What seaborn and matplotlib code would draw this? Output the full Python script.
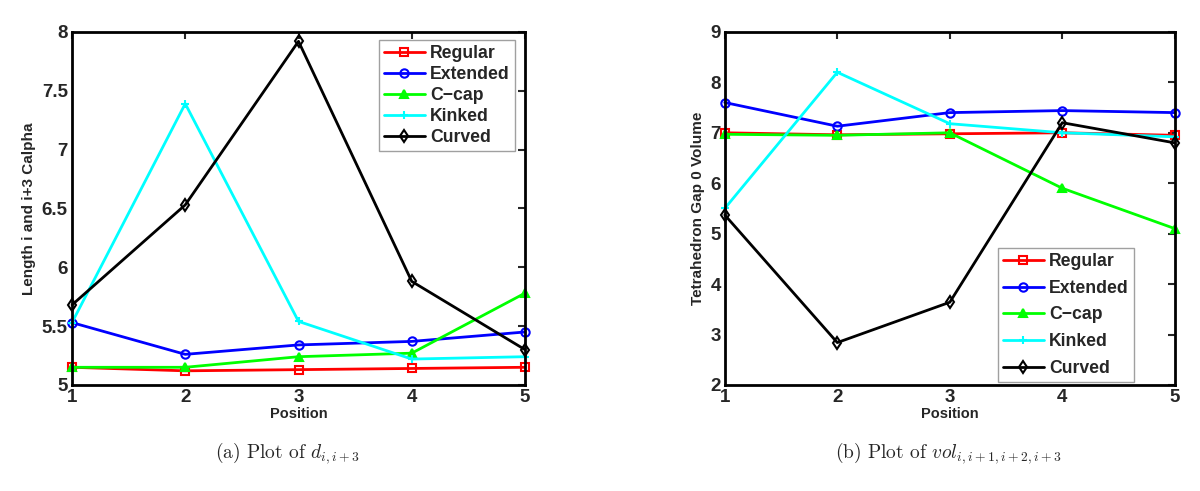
import pandas as pd
import numpy as np
import matplotlib
matplotlib.use("Agg")
import matplotlib.pyplot as plt
import seaborn as sns

positions = [1, 2, 3, 4, 5]
series_names = ["Regular", "Extended", "C\u2212cap", "Kinked", "Curved"]

# (a) distance between residue i and i+3 C-alpha
dist_regular = [5.15, 5.12, 5.13, 5.14, 5.15]
dist_extended = [5.53, 5.26, 5.34, 5.37, 5.45]
dist_ccap = [5.15, 5.15, 5.24, 5.27, 5.78]
dist_kinked = [5.53, 7.39, 5.54, 5.22, 5.24]
dist_curved = [5.68, 6.53, 7.92, 5.88, 5.30]

# (b) tetrahedron gap 0 volume
vol_regular = [7.00, 6.96, 6.98, 7.00, 6.95]
vol_extended = [7.60, 7.13, 7.40, 7.44, 7.40]
vol_ccap = [6.97, 6.95, 7.00, 5.90, 5.10]
vol_kinked = [5.50, 8.20, 7.18, 7.00, 6.92]
vol_curved = [5.37, 2.84, 3.64, 7.20, 6.80]

colors = ["#ff0000", "#0000ff", "#00ff00", "#00ffff", "#000000"]
markers = ["s", "o", "^", "+", "d"]
filled = [False, False, True, True, False]

sns.set_style("white")
plt.rcParams["font.family"] = ["Liberation Sans", "DejaVu Sans"]
plt.rcParams["mathtext.fontset"] = "cm"


def to_long(values):
    rows = []
    for name, vals in zip(series_names, values):
        for p, v in zip(positions, vals):
            rows.append({"Position": p, "Value": v, "Series": name})
    return pd.DataFrame(rows)


def draw_panel(ax, df, ylabel, ylim, yticks, yticklabels, legend_loc, anchor, spacing):
    for name, c, m, f in zip(series_names, colors, markers, filled):
        sub = df[df["Series"] == name]
        sns.lineplot(data=sub, x="Position", y="Value", ax=ax, color=c, marker=m,
                     markersize=6, markeredgewidth=1.5, linewidth=2,
                     markerfacecolor=c if f else "none", markeredgecolor=c,
                     label=name, clip_on=False)
    ax.set_xlim(1, 5)
    ax.set_ylim(*ylim)
    ax.set_xticks(positions)
    ax.set_xticklabels([str(p) for p in positions], fontweight="bold", fontsize=13.5)
    ax.set_yticks(yticks)
    ax.set_yticklabels(yticklabels, fontweight="bold", fontsize=13.5)
    ax.tick_params(direction="in", length=5, width=1.5, top=True, right=True, pad=3)
    for s in ax.spines.values():
        s.set_linewidth(2)
        s.set_color("black")
    ax.set_xlabel("Position", fontweight="bold", fontsize=10.5, labelpad=1)
    ax.set_ylabel(ylabel, fontweight="bold", fontsize=11, labelpad=4)
    leg = ax.legend(loc=legend_loc, bbox_to_anchor=anchor, prop={"weight": "bold", "size": 12.7},
                    frameon=True, fancybox=False, handlelength=2.3,
                    labelspacing=spacing, borderaxespad=0, handletextpad=0.3,
                    borderpad=0.3)
    leg.get_frame().set_edgecolor("#888888")
    leg.get_frame().set_linewidth(1)


fig = plt.figure(figsize=(12, 4.91), dpi=100)
ax1 = fig.add_axes([0.06, 0.216, 0.3775, 0.719])
ax2 = fig.add_axes([0.604, 0.216, 0.375, 0.719])

dist_df = to_long([dist_regular, dist_extended, dist_ccap, dist_kinked, dist_curved])
vol_df = to_long([vol_regular, vol_extended, vol_ccap, vol_kinked, vol_curved])

draw_panel(ax1, dist_df, "Length i and i+3 Calpha", (5, 8),
           [5, 5.5, 6, 6.5, 7, 7.5, 8], ["5", "5.5", "6", "6.5", "7", "7.5", "8"],
           "upper right", (0.978, 0.977), 0.22)
draw_panel(ax2, vol_df, "Tetrahedron Gap 0 Volume", (2, 9),
           [2, 3, 4, 5, 6, 7, 8, 9], ["2", "3", "4", "5", "6", "7", "8", "9"],
           "lower right", (0.909, 0.008), 0.55)

cap_font = {"family": ["cmr10", "DejaVu Serif"], "size": 14}
fig.text(0.24, 0.077, r"(a) Plot of $d_{i,i+3}$", ha="center", va="center", fontdict=cap_font)
fig.text(0.79, 0.077, r"(b) Plot of $vol_{i,i+1,i+2,i+3}$", ha="center", va="center", fontdict=cap_font)

fig.savefig("out.png", dpi=100)
